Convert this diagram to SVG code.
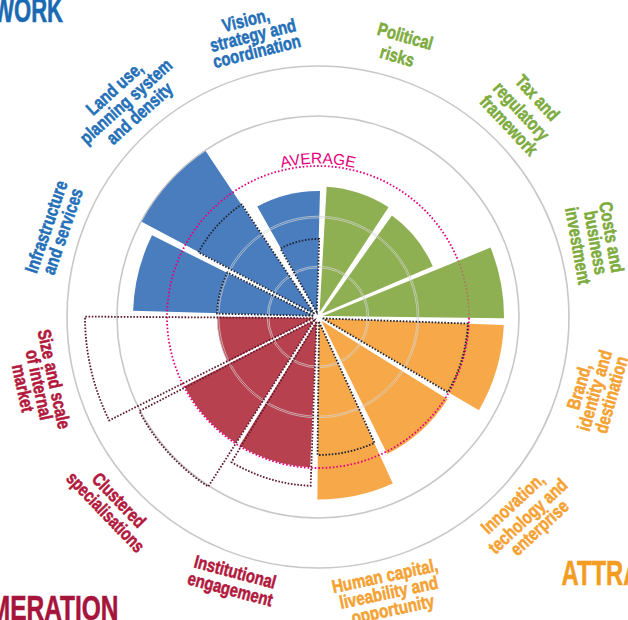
<svg xmlns="http://www.w3.org/2000/svg" width="628" height="620" viewBox="0 0 628 620">
<style>
.lbl{font-family:"Liberation Sans",Arial,sans-serif;font-weight:bold;font-size:18.5px;text-anchor:middle;stroke-width:0.55;stroke-linejoin:round}
.ttl{font-family:"Liberation Sans",Arial,sans-serif;font-weight:bold;font-size:35px;stroke-width:0.6}
.cb{fill:#2470b8;stroke:#2470b8}.cg{fill:#7dab3d;stroke:#7dab3d}.co{fill:#f5a233;stroke:#f5a233}.cr{fill:#b2193d;stroke:#b2193d}
.fb{fill:#4a7dbe}.fg{fill:#8fb052}.fo{fill:#f7a848}.fr{fill:#b7414e}
.ring{fill:none;stroke:#c8c8c8;stroke-width:1.6}
.iring{fill:none;stroke:#d6d6d6;stroke-width:0.7}
.bm{fill:none;stroke-width:1.8;stroke-dasharray:1.6 1.6}
.bmd{stroke:#1f2536}.bmr{stroke:#5c1a2b}
.avg{fill:none;stroke-width:1.8;stroke-dasharray:1.6 2}
</style>
<defs>
<path id="avgpath" d="M 219.33 199.41 A 153.5 153.5 0 0 1 416.67 199.41"/>
</defs>
<rect width="628" height="620" fill="#ffffff"/>
<g id="titles">
<text class="ttl" fill="#1a6ab3" stroke="#1a6ab3" text-anchor="end" transform="translate(63,21.5) scale(0.63,1)">WORK</text>
<text class="ttl" fill="#a6133b" stroke="#a6133b" text-anchor="end" transform="translate(118.5,620) scale(0.7,1)">MERATION</text>
<text class="ttl" fill="#f39c1f" stroke="#f39c1f" text-anchor="start" transform="translate(561.5,585) scale(0.68,1)">ATTRA</text>
</g>
<g id="outer-rings">
<circle class="ring" cx="318" cy="317" r="201"/>
<circle class="ring" cx="318" cy="317" r="251"/>
</g>
<g id="political">
<path class="fg" d="M319.57 312.25 L326.65 186.79 A130.5 130.5 0 0 1 388.50 207.18 Z"/>
<text class="lbl cg" transform="translate(405,37) rotate(16) scale(0.8,1)" y="5.5">Political</text>
<text class="lbl cg" transform="translate(397,57) rotate(16) scale(0.8,1)" y="5.5">risks</text>
</g>
<g id="tax">
<path class="fg" d="M321.89 313.86 L391.94 215.60 A125.5 125.5 0 0 1 432.74 266.16 Z"/>
<text class="lbl cg" transform="translate(536.7,98.3) rotate(47) scale(0.8,1)" y="5.5">Tax and</text>
<text class="lbl cg" transform="translate(520.7,111.7) rotate(47) scale(0.8,1)" y="5.5">regulatory</text>
<text class="lbl cg" transform="translate(508.3,126) rotate(47) scale(0.8,1)" y="5.5">framework</text>
</g>
<g id="costs">
<path class="fg" d="M322.91 316.07 L490.57 247.62 A186 186 0 0 1 504.0 318.30 Z"/>
<text class="lbl cg" transform="translate(610.7,237.3) rotate(80) scale(0.8,1)" y="5.5">Costs and</text>
<text class="lbl cg" transform="translate(595,242.7) rotate(80) scale(0.8,1)" y="5.5">business</text>
<text class="lbl cg" transform="translate(577.3,246) rotate(80) scale(0.8,1)" y="5.5">investment</text>
</g>
<g id="brand">
<path class="fo" d="M322.80 318.40 L503.82 325.11 A186 186 0 0 1 478.93 410.28 Z"/>
<text class="lbl co" transform="translate(580,386.7) rotate(-74) scale(0.8,1)" y="5.5">Brand,</text>
<text class="lbl co" transform="translate(595.5,390.7) rotate(-74) scale(0.8,1)" y="5.5">identity and</text>
<text class="lbl co" transform="translate(612,395) rotate(-74) scale(0.8,1)" y="5.5">destination</text>
</g>
<g id="innovation">
<path class="fo" d="M321.36 320.70 L447.60 399.25 A153.5 153.5 0 0 1 387.21 454.01 Z"/>
<text class="lbl co" transform="translate(513.3,504) rotate(-43) scale(0.8,1)" y="5.5">Innovation,</text>
<text class="lbl co" transform="translate(528.3,516.7) rotate(-43) scale(0.8,1)" y="5.5">techology and</text>
<text class="lbl co" transform="translate(540,528.3) rotate(-43) scale(0.8,1)" y="5.5">enterprise</text>
</g>
<g id="human-capital">
<path class="fo" d="M319.04 321.89 L392.81 483.46 A182.5 182.5 0 0 1 317.36 499.50 Z"/>
<text class="lbl co" transform="translate(385,576.7) rotate(-12) scale(0.82,1)" y="5.5">Human capital,</text>
<text class="lbl co" transform="translate(389,593.3) rotate(-12) scale(0.82,1)" y="5.5">liveability and</text>
<text class="lbl co" transform="translate(393,610) rotate(-12) scale(0.82,1)" y="5.5">opportunity</text>
</g>
<g id="institutional">
<path class="fr" d="M316.52 321.78 L310.12 467.29 A150.5 150.5 0 0 1 239.59 445.47 Z"/>
<text class="lbl cr" transform="translate(235,572.7) rotate(15) scale(0.8,1)" y="5.5">Institutional</text>
<text class="lbl cr" transform="translate(230,590) rotate(15) scale(0.8,1)" y="5.5">engagement</text>
</g>
<g id="clustered">
<path class="fr" d="M314.29 320.35 L235.81 443.07 A150.5 150.5 0 0 1 184.39 386.26 Z"/>
<text class="lbl cr" transform="translate(118.3,500.7) rotate(46) scale(0.8,1)" y="5.5">Clustered</text>
<text class="lbl cr" transform="translate(105,512.7) rotate(46) scale(0.78,1)" y="5.5">specialisations</text>
</g>
<g id="size">
<path class="fr" d="M313.13 318.13 L227.53 361.90 A101 101 0 0 1 217.0 316.65 Z"/>
<text class="lbl cr" transform="translate(53.3,379.3) rotate(78) scale(0.8,1)" y="5.5">Size and scale</text>
<text class="lbl cr" transform="translate(38.3,385) rotate(78) scale(0.8,1)" y="5.5">of internal</text>
<text class="lbl cr" transform="translate(22.3,388.3) rotate(78) scale(0.8,1)" y="5.5">market</text>
</g>
<g id="infrastructure">
<path class="fb" d="M313.15 315.79 L133.10 310.87 A185 185 0 0 1 152.0 235.32 Z"/>
<text class="lbl cb" transform="translate(47,227) rotate(-71) scale(0.8,1)" y="5.5">Infrastructure</text>
<text class="lbl cb" transform="translate(63.5,231.5) rotate(-71) scale(0.8,1)" y="5.5">and services</text>
</g>
<g id="land-use">
<path class="fb" d="M314.29 313.65 L141.64 221.64 A200.5 200.5 0 0 1 205.60 150.97 Z"/>
<text class="lbl cb" transform="translate(115,89) rotate(-42) scale(0.8,1)" y="5.5">Land use,</text>
<text class="lbl cb" transform="translate(126.5,102) rotate(-42) scale(0.8,1)" y="5.5">planning system</text>
<text class="lbl cb" transform="translate(140,114) rotate(-42) scale(0.8,1)" y="5.5">and density</text>
</g>
<g id="vision">
<path class="fb" d="M316.79 312.15 L257.29 206.59 A126 126 0 0 1 319.98 191.02 Z"/>
<text class="lbl cb" transform="translate(246,21) rotate(-14) scale(0.8,1)" y="5.5">Vision,</text>
<text class="lbl cb" transform="translate(253,36) rotate(-14) scale(0.8,1)" y="5.5">strategy and</text>
<text class="lbl cb" transform="translate(257,52) rotate(-14) scale(0.8,1)" y="5.5">coordination</text>
</g>
<g id="inner-rings">
<circle class="iring" cx="318" cy="317" r="49.2"/>
<circle class="iring" cx="318" cy="317" r="50.8"/>
<circle class="iring" cx="318" cy="317" r="99.2"/>
<circle class="iring" cx="318" cy="317" r="100.8"/>
</g>
<g id="average">
<path class="avg" stroke="#e5007e" d="M469.0 318.05 A151 151 0 1 1 458.10 260.68"/>
<path class="avg" stroke="#a87b64" d="M458.10 260.68 A151 151 0 0 1 469.0 318.05"/>
<text font-family="Liberation Sans, Arial, sans-serif" font-size="15.5" fill="#e4007c" text-anchor="middle"><textPath href="#avgpath" startOffset="50%">AVERAGE</textPath></text>
</g>
<g id="benchmarks">
<path class="bm bmd" d="M316.79 312.15 L280.42 248.65 A78 78 0 0 1 319.23 239.01 Z"/>
<path class="bm bmd" d="M314.29 313.65 L198.37 252.32 A136 136 0 0 1 241.76 204.38 Z"/>
<path class="bm bmd" d="M313.15 315.79 L217.06 313.65 A101 101 0 0 1 227.37 272.41 Z"/>
<path class="bm bmd" d="M322.80 318.40 L467.86 323.54 A150 150 0 0 1 447.78 392.23 Z"/>
<path class="bm bmd" d="M319.04 321.89 L374.57 442.87 A138 138 0 0 1 317.52 455.0 Z"/>
<path class="bm bmr" d="M316.52 321.78 L310.63 485.84 A169 169 0 0 1 231.47 462.17 Z"/>
<path class="bm bmr" d="M314.29 320.35 L208.27 486.60 A202 202 0 0 1 139.31 411.21 Z"/>
<path class="bm bmr" d="M313.13 318.13 L109.21 420.43 A233 233 0 0 1 85.0 316.59 Z"/>
</g>
</svg>
